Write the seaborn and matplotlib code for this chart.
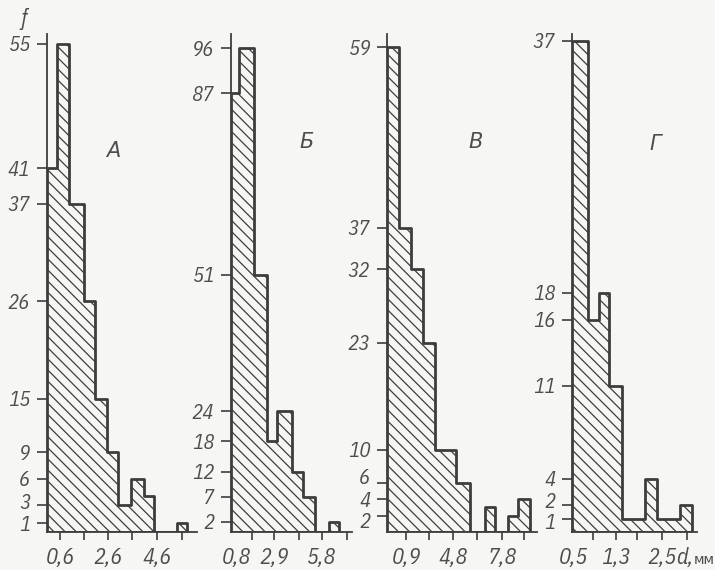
import matplotlib
matplotlib.use("Agg")
import matplotlib.pyplot as plt
import matplotlib.transforms as mtransforms
import pandas as pd
import seaborn as sns

# Class boundaries (in class-interval units) and frequencies of each sample
edges_a = [0, 0.8, 1.8, 3.1, 4.0, 5.0, 5.9, 7.0, 8.1, 8.9, 10.8, 11.7]
freq_a = [41, 55, 37, 26, 15, 9, 3, 6, 4, 0, 1]
yticks_a = [1, 3, 6, 9, 15, 26, 37, 41, 55]
xmarks_a = [1.1, 3.1, 5.1, 7.1, 9.15, 11.25]
xticklabels_a = ["0,6", "", "2,6", "", "4,6", ""]
xextra_pos_a, xextra_lab_a = [], []

edges_b = [0, 0.7, 1.9, 3.0, 3.85, 5.1, 6.0, 7.0, 8.15, 9.05]
freq_b = [87, 96, 51, 18, 24, 12, 7, 0, 2]
yticks_b = [2, 7, 12, 18, 24, 51, 87, 96]
xmarks_b = [1.75, 3.6, 5.65, 7.6, 9.65]
xticklabels_b = ["", "2,9", "", "5,8", ""]
xextra_pos_b, xextra_lab_b = [0.5], ["0,8"]

edges_v = [0, 1, 2, 3, 4, 5.75, 6.9, 8.15, 9.0, 10.05, 10.9, 11.9]
freq_v = [59, 37, 32, 23, 10, 6, 0, 3, 0, 2, 4]
yticks_v = [2, 4, 6, 10, 23, 32, 37, 59]
xmarks_v = [1.6, 3.5, 5.5, 7.5, 9.6, 11.4]
xticklabels_v = ["0,9", "", "4,8", "", "7,8", ""]
xextra_pos_v, xextra_lab_v = [], []

edges_g = [0, 1.3, 2.25, 3.1, 4.15, 5.1, 6.1, 7.1, 8.1, 9.0, 10.0]
freq_g = [37, 16, 18, 11, 1, 1, 4, 1, 1, 2]
yticks_g = [1, 2, 4, 11, 16, 18, 37]
xmarks_g = [1.75, 3.65, 5.4, 7.5, 9.6]
xticklabels_g = ["", "1,3", "", "2,5", ""]
xextra_pos_g, xextra_lab_g = [0.1], ["0,5"]

panel_names = ["А", "Б", "В", "Г"]

# Figure geometry (pixels)
W, H = 715, 570
BASE_Y, TOP_Y = 532, 34
INK = "#3d3d3d"
TEXT = "#4d4d4d"
BG = "#f6f6f4"

# small vertical shifts (px) for crowded y tick labels near the baseline
layout = [
    dict(left=47, width=150, xmax=12.5, ytop=56.1, letter=(113, 152),
         nudge={3: 4}),
    dict(left=231, width=121, xmax=10.1, ytop=98.8, letter=(307, 143), nudge={}),
    dict(left=387, width=150, xmax=12.5, ytop=60.6, letter=(476, 143),
         nudge={6: 6, 2: -5}),
    dict(left=572, width=125, xmax=10.4, ytop=37.5, letter=(655, 145),
         nudge={2: 5, 1: -3}),
]

samples = [
    (edges_a, freq_a, yticks_a, xmarks_a, xticklabels_a, xextra_pos_a, xextra_lab_a),
    (edges_b, freq_b, yticks_b, xmarks_b, xticklabels_b, xextra_pos_b, xextra_lab_b),
    (edges_v, freq_v, yticks_v, xmarks_v, xticklabels_v, xextra_pos_v, xextra_lab_v),
    (edges_g, freq_g, yticks_g, xmarks_g, xticklabels_g, xextra_pos_g, xextra_lab_g),
]

sns.set_theme(style="ticks")
plt.rcParams["font.family"] = ["IBM Plex Sans Condensed", "DejaVu Sans"]
plt.rcParams["font.style"] = "italic"
plt.rcParams["font.weight"] = 400
plt.rcParams["hatch.linewidth"] = 0.9

fig = plt.figure(figsize=(W / 100, H / 100), dpi=100, facecolor=BG)

for name, lay, (edges, freq, yticks, xmarks, xtl, xpos2, xlab2) in zip(panel_names, layout, samples):
    ax = fig.add_axes([lay["left"] / W, (H - BASE_Y) / H,
                       lay["width"] / W, (BASE_Y - TOP_Y) / H])
    ax.set_facecolor("none")

    centers = [(lo + hi) / 2 for lo, hi in zip(edges[:-1], edges[1:])]
    df = pd.DataFrame({"cls": centers, "f": freq})
    sns.histplot(data=df, x="cls", weights="f", bins=edges, element="step",
                 fill=True, color=INK, facecolor="none", edgecolor=INK,
                 linewidth=2.0, hatch="\\\\\\", ax=ax)

    ax.set_xlim(0, lay["xmax"])
    ax.set_ylim(0, lay["ytop"])
    ax.set_xlabel("")
    ax.set_ylabel("")
    sns.despine(ax=ax)
    for side in ("left", "bottom"):
        ax.spines[side].set_color(INK)
        ax.spines[side].set_linewidth(1.3)

    ax.set_yticks(yticks)
    ax.set_yticklabels([str(v) for v in yticks])
    ax.tick_params(axis="y", direction="out", length=7, width=1.2,
                   color=INK, labelcolor=TEXT, labelsize=15, pad=5, left=True)
    for val, lab in zip(yticks, ax.get_yticklabels()):
        dy = lay["nudge"].get(val, 0)
        if dy:
            lab.set_transform(lab.get_transform() + mtransforms.ScaledTranslation(
                0, dy / 100, fig.dpi_scale_trans))

    ax.set_xticks(xmarks)
    ax.set_xticklabels(xtl)
    ax.tick_params(axis="x", which="major", direction="out", length=6,
                   width=1.2, color=INK, bottom=True, pad=5,
                   labelcolor=TEXT, labelsize=16)
    if xpos2:
        ax.set_xticks(xpos2, minor=True)
        ax.set_xticklabels(xlab2, minor=True)
        ax.tick_params(axis="x", which="minor", length=0, pad=11,
                       labelcolor=TEXT, labelsize=16, bottom=True)

    lx, ly = lay["letter"]
    fig.text(lx / W, 1 - ly / H, name, ha="center", va="center",
             fontsize=15, color=TEXT)

fig.text(24 / W, 1 - 19 / H, "f", ha="center", va="center",
         fontsize=16, color=TEXT)
fig.text(676 / W, 1 - 564 / H, "d,", ha="left", va="baseline",
         fontsize=16, color=TEXT)
fig.text(694 / W, 1 - 564 / H, "мм", ha="left", va="baseline",
         fontsize=10, color=TEXT, style="normal")

fig.savefig("out.png", dpi=100, facecolor=BG)
